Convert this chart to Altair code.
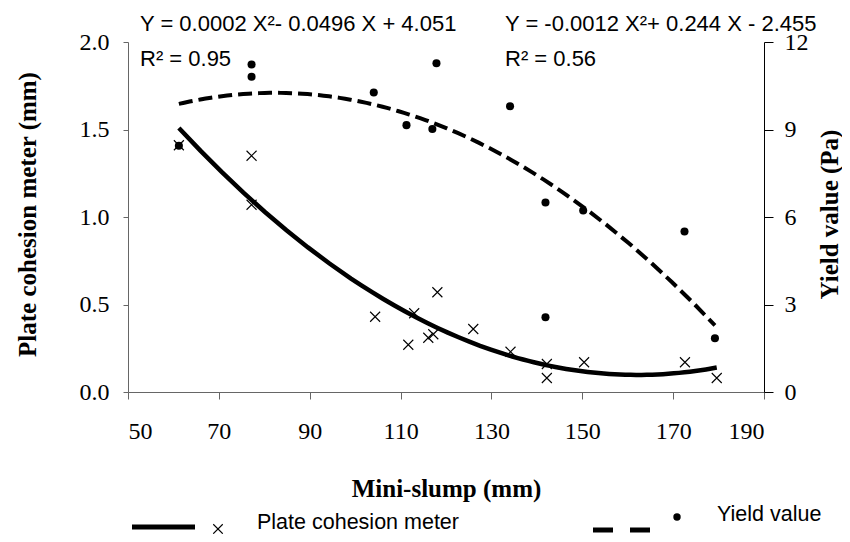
import altair as alt
import pandas as pd

# Plate cohesion meter (left axis, mm) vs mini-slump (mm)
plate_x = [61.2, 77.2, 77.2, 104.4, 111.7, 113.0, 116.1, 117.2, 118.1, 126.0,
           134.2, 142.2, 142.2, 150.4, 172.6, 179.6]
plate_y = [1.41, 1.35, 1.07, 0.43, 0.27, 0.45, 0.31, 0.33, 0.57, 0.36,
           0.23, 0.16, 0.08, 0.17, 0.17, 0.08]

# Yield value (right axis, Pa) vs mini-slump (mm)
yield_x = [61.2, 77.2, 77.2, 104.1, 111.3, 117.0, 117.9, 134.1, 141.9, 141.9,
           150.2, 172.5, 179.2]
yield_y = [8.44, 11.23, 10.81, 10.27, 9.15, 9.02, 11.27, 9.80, 6.50, 2.56,
           6.22, 5.50, 1.84]

x_ticks = [50, 70, 90, 110, 130, 150, 170, 190]
left_ticks = [0.0, 0.5, 1.0, 1.5, 2.0]
right_ticks = [0, 3, 6, 9, 12]

eq_plate = "Y = 0.0002 X\u00b2- 0.0496 X + 4.051"
r2_plate = "R\u00b2 = 0.95"
eq_yield = "Y = -0.0012 X\u00b2+ 0.244 X - 2.455"
r2_yield = "R\u00b2 = 0.56"

plate_df = pd.DataFrame({"slump": plate_x, "plate": plate_y})
yield_df = pd.DataFrame({"slump": yield_x, "yv": yield_y})
one = pd.DataFrame({"k": [0]})

SERIF = "Liberation Serif"
SANS = "Liberation Sans"

x_enc = alt.X(
    "slump:Q",
    scale=alt.Scale(domain=[50, 190], nice=False, zero=False),
    axis=alt.Axis(
        values=x_ticks, title="Mini-slump (mm)", grid=False,
        labelFont=SERIF, labelFontSize=24, labelPadding=20, labelColor="black",
        tickSize=7, tickColor="#666", domainColor="#666",
        titleFont=SERIF, titleFontSize=25, titleFontWeight="bold", titleColor="black",
        titleX=318, titleY=96, titleAlign="center", titleBaseline="middle",
    ),
)

left_axis = alt.Axis(
    values=left_ticks, format=".1f", orient="left", grid=False,
    title="Plate cohesion meter (mm)",
    labelFont=SERIF, labelFontSize=24, labelPadding=14, labelColor="black",
    tickSize=5, tickColor="#666", domainColor="#666",
    titleFont=SERIF, titleFontSize=25, titleFontWeight="bold", titleColor="black",
    titleAngle=270, titleX=-101, titleY=172, titleAlign="center", titleBaseline="middle",
)
right_axis = alt.Axis(
    values=right_ticks, orient="right", grid=False,
    title="Yield value (Pa)",
    labelFont=SERIF, labelFontSize=24, labelPadding=11, labelColor="black",
    tickSize=9, tickColor="black", domainColor="black",
    titleFont=SERIF, titleFontSize=25, titleFontWeight="bold", titleColor="black",
    titleAngle=270, titleX=65, titleY=172, titleAlign="center", titleBaseline="middle",
)

XSHAPE = "M-1,-1L1,1M-1,1L1,-1"

crosses = alt.Chart(plate_df).mark_point(
    shape=XSHAPE, filled=False, size=100, strokeWidth=1.1, color="black", opacity=1
).encode(
    x=x_enc,
    y=alt.Y("plate:Q", scale=alt.Scale(domain=[0, 2], nice=False), axis=left_axis),
)
solid = alt.Chart(plate_df).transform_regression(
    "slump", "plate", method="poly", order=2
).mark_line(color="black", strokeWidth=4.5).encode(
    x=alt.X("slump:Q"),
    y=alt.Y("plate:Q"),
)
left_group = alt.layer(crosses, solid)

dots = alt.Chart(yield_df).mark_point(
    shape="circle", filled=True, size=65, color="black", opacity=1
).encode(
    x=alt.X("slump:Q"),
    y=alt.Y("yv:Q", scale=alt.Scale(domain=[0, 12], nice=False), axis=right_axis),
)
dashed = alt.Chart(yield_df).transform_regression(
    "slump", "yv", method="poly", order=2
).mark_line(color="black", strokeWidth=4, strokeDash=[14, 6]).encode(
    x=alt.X("slump:Q"),
    y=alt.Y("yv:Q"),
)
right_group = alt.layer(dots, dashed)

def txt(s, x, y, size):
    return alt.Chart(one).mark_text(
        align="left", baseline="middle", font=SANS, fontSize=size, color="black"
    ).encode(x=alt.value(x), y=alt.value(y), text=alt.value(s))

annotations = [
    txt(eq_plate, 12, -18, 22),
    txt(r2_plate, 12, 17, 22),
    txt(eq_yield, 377, -18, 22),
    txt(r2_yield, 377, 17, 22),
]

leg_solid = alt.Chart(one).mark_rule(color="black", strokeWidth=5).encode(
    x=alt.value(4), x2=alt.value(67), y=alt.value(485)
)
leg_cross = alt.Chart(one).mark_point(
    shape=XSHAPE, filled=False, size=90, strokeWidth=1.1, color="black", opacity=1
).encode(x=alt.value(90), y=alt.value(487))
leg_dash = alt.Chart(one).mark_rule(color="black", strokeWidth=5, strokeDash=[20, 17]).encode(
    x=alt.value(465), x2=alt.value(522), y=alt.value(488)
)
leg_dot = alt.Chart(one).mark_point(
    shape="circle", filled=True, size=55, color="black", opacity=1
).encode(x=alt.value(549), y=alt.value(475))
leg_txt1 = txt("Plate cohesion meter", 129, 481, 21.5)
leg_txt2 = txt("Yield value", 589, 473, 21.5)

chart = alt.layer(
    left_group, right_group, *annotations,
    leg_solid, leg_cross, leg_dash, leg_dot, leg_txt1, leg_txt2,
).resolve_scale(
    y="independent"
).properties(
    width=636, height=350,
    autosize=alt.AutoSizeParams(type="none"),
    padding={"left": 120, "top": 34, "right": 78, "bottom": 142},
    background="white",
).configure_view(stroke=None)

chart.save("out.html", embed_options={"renderer": "svg", "actions": False})
